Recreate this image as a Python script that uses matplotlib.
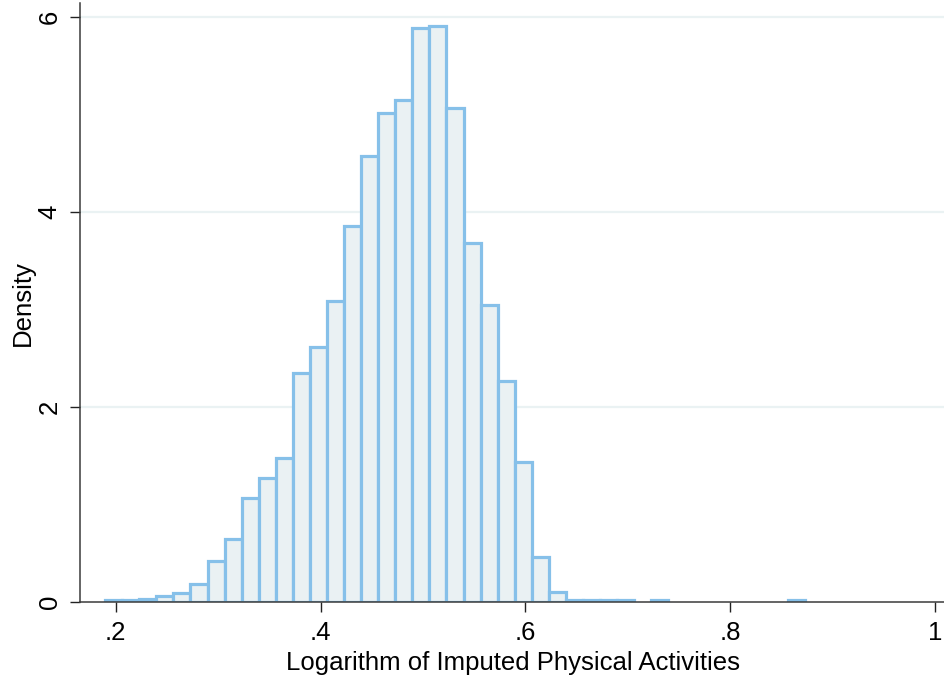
import numpy as np
import matplotlib
matplotlib.use("Agg")
import matplotlib.pyplot as plt

# histogram of log imputed physical activities (density scale)
bin_start = 0.1896
bin_end = 0.8731
n_bins = 41
density = [0.015, 0.015, 0.03, 0.06, 0.09, 0.18, 0.42, 0.64, 1.06, 1.27,
           1.48, 2.35, 2.61, 3.09, 3.86, 4.57, 5.02, 5.15, 5.89, 5.91,
           5.07, 3.68, 3.04, 2.27, 1.43, 0.46, 0.10, 0.015, 0.015, 0.015,
           0.015, 0.0, 0.015, 0.0, 0.0, 0.0, 0.0, 0.0, 0.0, 0.0,
           0.015]
xticks = [0.2, 0.4, 0.6, 0.8, 1.0]
xticklabels = [".2", ".4", ".6", ".8", "1"]
yticks = [0, 2, 4, 6]

edges = np.linspace(bin_start, bin_end, n_bins + 1)
heights = np.array(density)
width = edges[1] - edges[0]

plt.rcParams['font.family'] = ['Liberation Sans', 'DejaVu Sans']

fig = plt.figure(figsize=(9.45, 6.83), dpi=100)
ax = fig.add_axes([0.0847, 0.1190, 0.9153, 0.876])

# light grid lines
for y in yticks[1:]:
    ax.axhline(y, color="#EAF2F3", lw=1.6, zorder=0)

keep = heights > 0
ax.bar(edges[:-1][keep], heights[keep], width=width, align="edge",
       color="#EAF1F3", edgecolor="#86C0E9", linewidth=2.3, zorder=2)

ax.set_xlim(0.1651, 1.0099)
ax.set_ylim(0, 6.14)
ax.set_xticks(xticks)
ax.set_xticklabels(xticklabels)
ax.set_yticks(yticks)
ax.set_yticklabels([str(t) for t in yticks], rotation=90, va="center")

ax.spines["top"].set_visible(False)
ax.spines["right"].set_visible(False)
for s in ("left", "bottom"):
    ax.spines[s].set_color("#3a3a3a")
    ax.spines[s].set_linewidth(1.1)
    ax.spines[s].set_zorder(3)
ax.tick_params(axis="both", length=7.2, width=1.0, color="#222222",
               labelsize=18.5)
ax.tick_params(axis="x", pad=7)
ax.tick_params(axis="y", pad=6)

ax.set_xlabel("Logarithm of Imputed Physical Activities", fontsize=18.5, labelpad=4)
ax.set_ylabel("Density", fontsize=18.5, labelpad=2)

fig.savefig("out.png", dpi=100)
